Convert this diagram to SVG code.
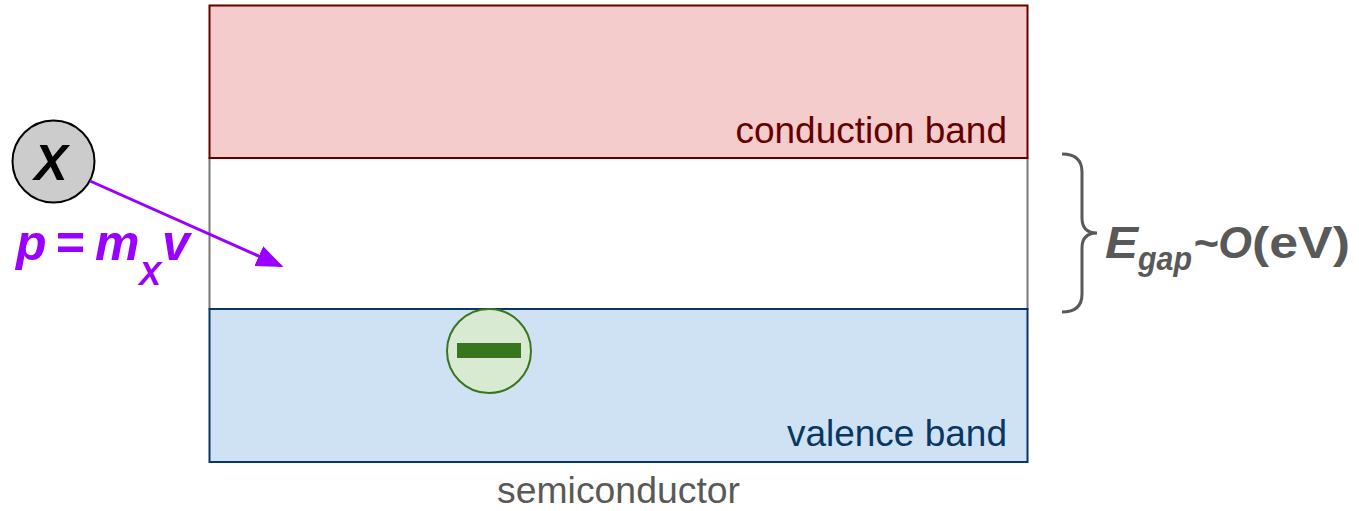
<svg xmlns="http://www.w3.org/2000/svg" width="1359" height="511" viewBox="0 0 1359 511">
  <defs>
    <style>
      .lbl { font-family: "Liberation Sans", Arial, sans-serif; font-size: 37px; }
      .bi { font-family: "Liberation Sans", Arial, sans-serif; font-weight: bold; font-style: italic; }
      .b { font-family: "Liberation Sans", Arial, sans-serif; font-weight: bold; }
      .purple { fill: #9900ff; }
      .grey { fill: #595959; }
    </style>
    <marker id="arrowhead" viewBox="0 0 10 10" refX="9" refY="5" markerWidth="9" markerHeight="9" orient="auto" markerUnits="strokeWidth">
      <path d="M0,1 L10,5 L0,9 z" fill="#9900ff"/>
    </marker>
  </defs>
  <rect width="1359" height="511" fill="#ffffff"/>

  <!-- gap region between the bands -->
  <g id="gap">
    <rect x="209.5" y="158" width="818" height="151" fill="#ffffff" stroke="#777777" stroke-width="2"/>
  </g>

  <g id="conduction-band">
    <rect x="209.5" y="5.5" width="818" height="152.5" fill="#f4cccc" stroke="#660000" stroke-width="2"/>
    <text class="lbl" x="1007" y="143" text-anchor="end" fill="#660000">conduction band</text>
  </g>

  <g id="valence-band">
    <rect x="209.5" y="309" width="818" height="153" fill="#cfe2f3" stroke="#073763" stroke-width="2"/>
    <text class="lbl" x="1007" y="446" text-anchor="end" fill="#073763">valence band</text>
  </g>

  <g id="semiconductor-label">
    <text class="lbl grey" x="497" y="503" font-size="34" textLength="243" lengthAdjust="spacingAndGlyphs">semiconductor</text>
  </g>

  <g id="electron">
    <circle cx="489" cy="351" r="42" fill="#d9ead3" stroke="#38761d" stroke-width="2"/>
    <rect x="457" y="343" width="64" height="15" fill="#38761d"/>
  </g>

  <g id="particle-x">
    <circle cx="53.5" cy="161.5" r="41" fill="#cccccc" stroke="#000000" stroke-width="2"/>
    <text class="bi" x="51" y="180" text-anchor="middle" font-size="50" fill="#000000">X</text>
  </g>

  <g id="momentum-label">
    <text class="bi purple" y="260" font-size="50"><tspan x="16">p</tspan><tspan x="55">=</tspan><tspan x="95">m</tspan><tspan x="139" y="285" font-size="33">X</tspan><tspan x="162" y="260">v</tspan></text>
  </g>

  <g id="gap-label">
    <path d="M1062,154 Q1082,154 1082,172 L1082,218 Q1082,233 1097,233 Q1082,233 1082,248 L1082,294 Q1082,312 1062,312" fill="none" stroke="#595959" stroke-width="3"/>
    <text class="bi grey" x="1105" y="258" font-size="44" textLength="33" lengthAdjust="spacingAndGlyphs">E</text>
    <text class="bi grey" x="1138" y="270" font-size="33" textLength="54" lengthAdjust="spacingAndGlyphs">gap</text>
    <text class="bi grey" x="1193" y="258" font-size="44" textLength="59" lengthAdjust="spacingAndGlyphs">~O</text>
    <text class="b grey" x="1252" y="258" font-size="44" textLength="98" lengthAdjust="spacingAndGlyphs">(eV)</text>
  </g>

  <g id="connectors">
    <line x1="90" y1="181" x2="281" y2="266" stroke="#9900ff" stroke-width="3" marker-end="url(#arrowhead)"/>
  </g>
</svg>
